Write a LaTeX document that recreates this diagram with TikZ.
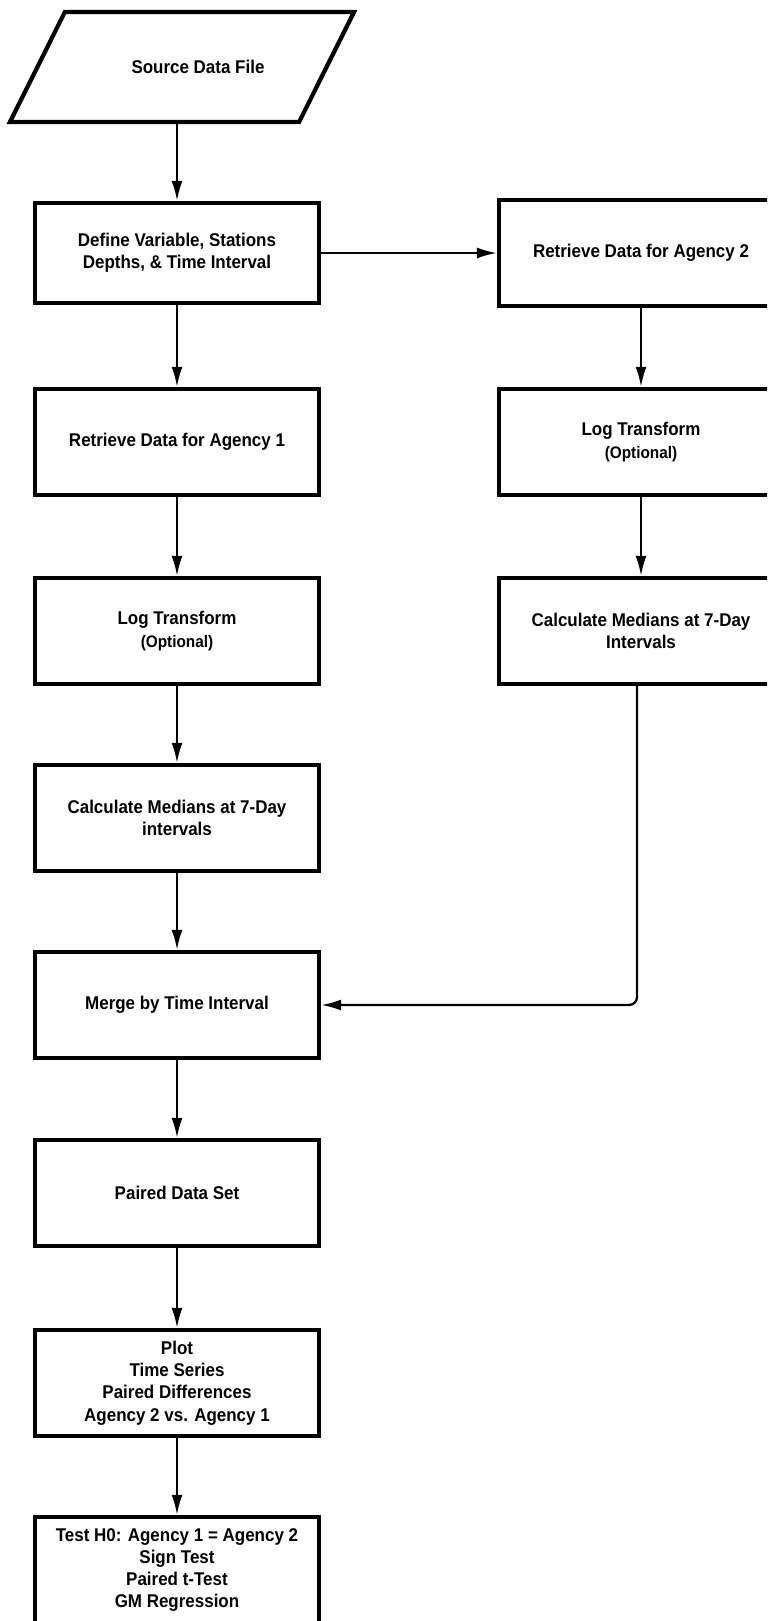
\documentclass[tikz,border=0pt]{standalone}
\usepackage{fontspec}
\setmainfont{Liberation Sans}[FakeStretch=0.92]
\usepackage{tikz}
\usetikzlibrary{arrows.meta}
\tikzset{>={Latex[length=4mm, width=2.2mm]}}
\tikzset{
    stepbox/.style={draw, line width=2.4pt, minimum width=5.68cm, minimum height=2.12cm, inner sep=2pt, align=center, font=\bfseries\fontsize{10.5}{12.7}\selectfont},
    flow/.style={->, line width=1.3pt},
}

\begin{document}
\begin{tikzpicture}[x=0.02cm, y=-0.02cm]
    \clip (0, 0) rectangle (767, 1621);
    \node[stepbox, draw=none, minimum width=5.7cm](src) at (198, 67){Source Data File};
    \draw[line width=2.4pt, line join=miter]([xshift=2.3mm]src.north west) -- ([xshift=2.3mm]src.north east) -- ([xshift=-8.7mm]src.south east) -- ([xshift=-8.7mm]src.south west) -- cycle;
    \node[stepbox, minimum height=2cm](def) at (177, 253){Define Variable, Stations\\Depths, \& Time Interval};
    \node[stepbox](ret1) at (177, 442){Retrieve Data for Agency 1};
    \node[stepbox](log1) at (177, 631){Log Transform\\{\fontsize{9.5}{11}\selectfont (Optional)}};
    \node[stepbox](calc1) at (177, 818){Calculate Medians at 7-Day\\intervals};
    \node[stepbox](merge) at (177, 1005){Merge by Time Interval};
    \node[stepbox](paired) at (177, 1193){Paired Data Set};
    \node[stepbox](plot) at (177, 1383){Plot\\Time Series\\Paired Differences\\Agency 2 vs. Agency 1};
    \node[stepbox](test) at (177, 1570){Test H0: Agency 1 = Agency 2\\Sign Test\\Paired t-Test\\GM Regression};
    \node[stepbox](ret2) at (641, 253){Retrieve Data for Agency 2};
    \node[stepbox](log2) at (641, 442){Log Transform\\{\fontsize{9.5}{11}\selectfont (Optional)}};
    \node[stepbox](calc2) at (641, 631){Calculate Medians at 7-Day\\Intervals};

    \draw[flow](src.south -| def.north) -- (def);
    \draw[flow](def) -- (ret1);
    \draw[flow](ret1) -- (log1);
    \draw[flow](log1) -- (calc1);
    \draw[flow](calc1) -- (merge);
    \draw[flow](merge) -- (paired);
    \draw[flow](paired) -- (plot);
    \draw[flow](plot) -- (test);
    \draw[flow](def) -- (ret2);
    \draw[flow](ret2) -- (log2);
    \draw[flow](log2) -- (calc2);
    \draw[flow, rounded corners=0.16cm](calc2.south -| 637, 0) |- (merge.east);
\end{tikzpicture}
\end{document}
